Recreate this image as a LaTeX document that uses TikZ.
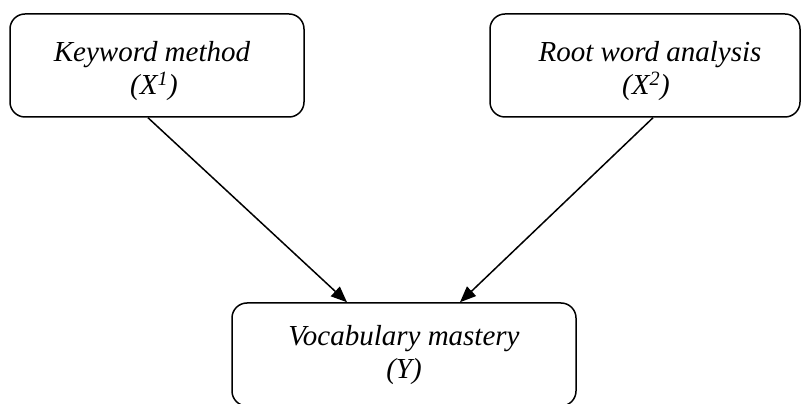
\documentclass[tikz,border=0pt]{standalone}
\usepackage{fontspec}
\setmainfont{Liberation Serif}
\usetikzlibrary{arrows.meta}
\begin{document}
\begin{tikzpicture}[x=1pt,y=1pt,
  boxstyle/.style={draw=black, line width=1.5pt, rounded corners=15pt, inner sep=0pt},
  txt/.style={font=\fontsize{29}{34}\selectfont\itshape, inner sep=0pt, anchor=base},
  arr/.style={line width=1.5pt, -{Triangle[length=16pt,width=13pt]}}]
\useasboundingbox (0,0) rectangle (801,404);
\node[boxstyle, minimum width=294pt, minimum height=103pt] (b1) at (157,338.5) {};
\node[boxstyle, minimum width=310pt, minimum height=103pt] (b2) at (645,338.5) {};
\node[boxstyle, minimum width=344pt, minimum height=103pt] (b3) at (404,49.5) {};
\node[txt] (t1a) at (152,342) {Keyword method};
\node[txt] (t1b) at (154,309) {(X\textsuperscript{1})};
\node[txt] (t2a) at (650,342) {Root word analysis};
\node[txt] (t2b) at (646,309) {(X\textsuperscript{2})};
\node[txt] (t3a) at (404,58) {Vocabulary mastery};
\node[txt] (t3b) at (404,25) {(Y)};
\draw[arr] ([xshift=-9pt]b1.south) -- ([xshift=-57pt]b3.north);
\draw[arr] ([xshift=8pt]b2.south) -- ([xshift=56pt]b3.north);
\end{tikzpicture}
\end{document}
